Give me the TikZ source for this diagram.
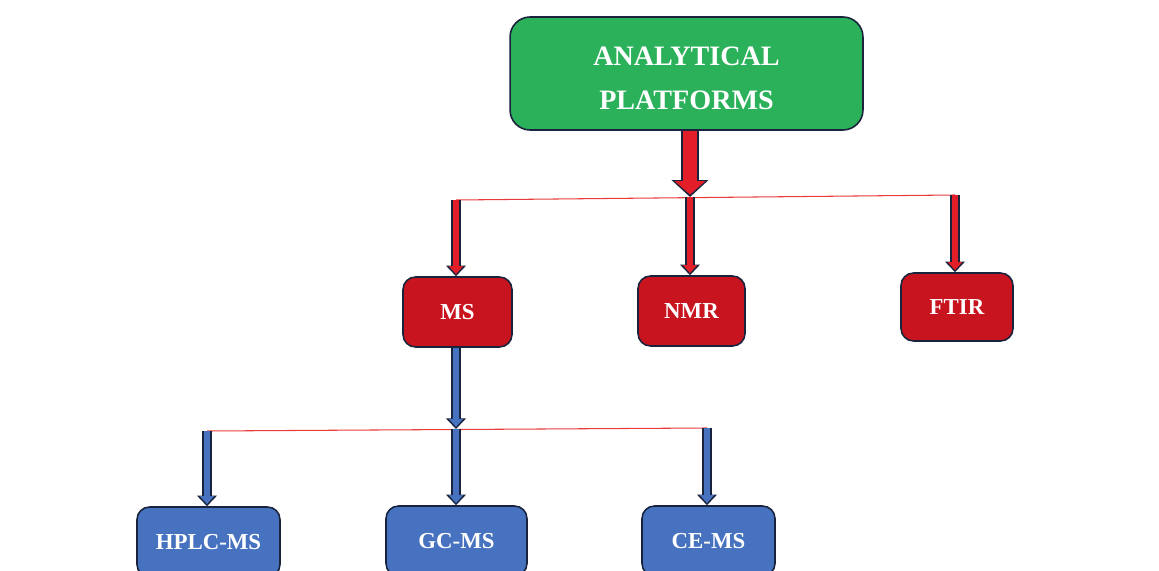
\documentclass[tikz,border=0pt]{standalone}
\usepackage{fontspec}
\setmainfont{Liberation Serif}
\usetikzlibrary{arrows.meta}
\definecolor{boxgreen}{RGB}{42,177,90}
\definecolor{boxred}{RGB}{200,20,30}
\definecolor{arrred}{RGB}{226,30,40}
\definecolor{boxblue}{RGB}{70,114,192}
\definecolor{edge}{RGB}{25,35,60}
\definecolor{linered}{RGB}{232,60,60}

\begin{document}
\begin{tikzpicture}[x=0.02cm,y=-0.02cm,
    box/.style={draw=edge,line width=0.9pt,rounded corners=0.25cm,text=white,
      font=\bfseries\fontsize{13}{15}\selectfont},
    thinline/.style={linered,line width=0.6pt},
    redarr/.style={arrred,line width=3.8pt,shorten >=1.2pt,-{Triangle[width=8pt,length=4.6pt]},
      preaction={draw=edge,line width=5.6pt,shorten >=0pt,-{Triangle[width=11pt,length=6pt]}}},
    bluearr/.style={redarr,boxblue},
    bigarr/.style={arrred,line width=8.4pt,shorten >=1.4pt,-{Triangle[width=17pt,length=7.6pt]},
      preaction={draw=edge,line width=10.2pt,shorten >=0pt,-{Triangle[width=20.4pt,length=9.6pt]}}}]
    \clip (0,0) rectangle (1159,571);
    \fill[white] (0,0) rectangle (1159,571);
    \node[box,fill=boxgreen,minimum width=7.06cm,minimum height=2.26cm,rounded corners=0.4cm,
      align=center,font=\bfseries\fontsize{16}{25}\selectfont] (platforms) at (686.5,73.5) {\rule{0pt}{5.5mm}ANALYTICAL\\PLATFORMS};
    \node[box,fill=boxred,minimum width=2.18cm,minimum height=1.4cm] (ms) at (457.5,312) {MS};
    \node[box,fill=boxred,minimum width=2.14cm,minimum height=1.4cm] (nmr) at (691.5,311) {NMR};
    \node[box,fill=boxred,minimum width=2.24cm,minimum height=1.36cm] (ftir) at (957,307) {FTIR};
    \node[box,fill=boxblue,minimum width=2.86cm,minimum height=1.4cm] (hplc) at (208.5,542) {HPLC-MS};
    \node[box,fill=boxblue,minimum width=2.82cm,minimum height=1.4cm] (gc) at (456.5,541) {GC-MS};
    \node[box,fill=boxblue,minimum width=2.66cm,minimum height=1.4cm] (ce) at (708.5,541) {CE-MS};
    \coordinate (split top) at (690,197);
    \coordinate (ms in) at (456,200);
    \coordinate (ftir in) at (955,195);
    \coordinate (split ms) at (456,429);
    \coordinate (hplc in) at (207,431);
    \coordinate (ce in) at (707,428);
    \draw[thinline] (ms in) to (ftir in);
    \draw[thinline] (hplc in) to (ce in);
    \draw[bigarr] (split top |- platforms.south) to (split top);
    \draw[redarr] (ms in) to (ms in |- ms.north);
    \draw[redarr] (split top) to (split top |- nmr.north);
    \draw[redarr] (ftir in) to (ftir in |- ftir.north);
    \draw[bluearr] (ms in |- ms.south) to (split ms);
    \draw[bluearr] (hplc in) to (hplc in |- hplc.north);
    \draw[bluearr] (split ms) to (split ms |- gc.north);
    \draw[bluearr] (ce in) to (ce in |- ce.north);
  \end{tikzpicture}
\end{document}
